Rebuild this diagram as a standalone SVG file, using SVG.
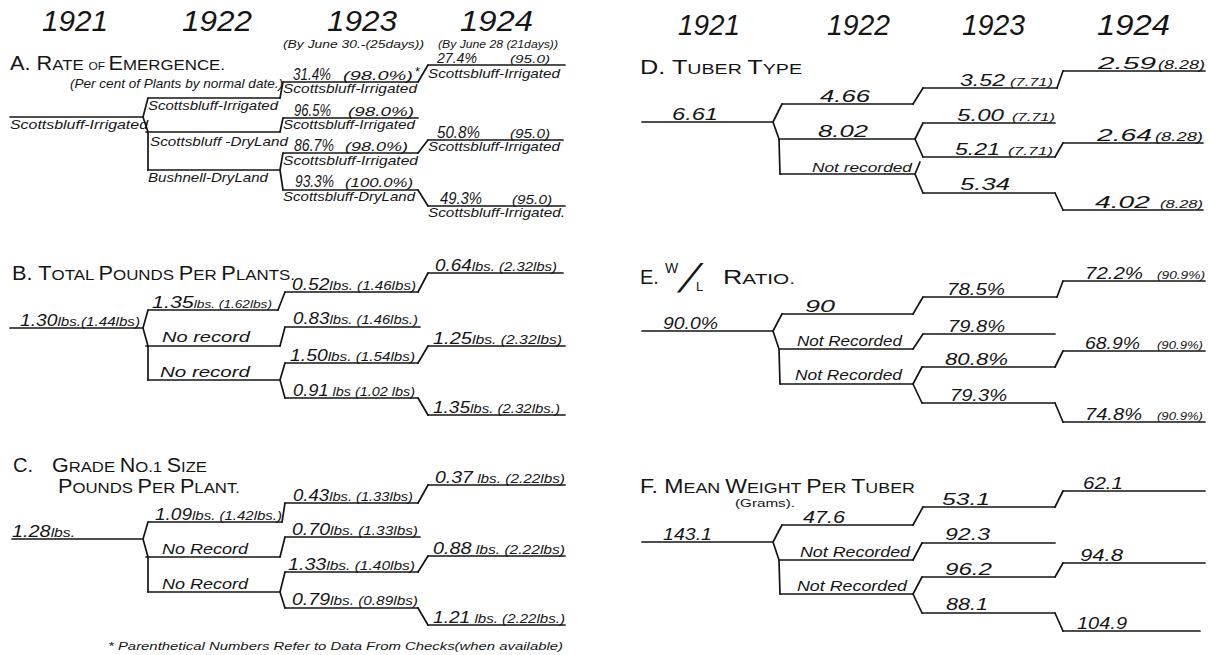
<svg xmlns="http://www.w3.org/2000/svg" width="1209" height="655" viewBox="0 0 1209 655">
<style>
.ln{fill:none;stroke:#151515;stroke-width:1.7;stroke-linecap:round;stroke-linejoin:round}
text{font-family:"Liberation Sans",Arial,sans-serif;fill:#151515}
.i{font-style:italic}
.yr{font-size:29px;font-style:italic}
.v{font-size:16.5px}
.vb{font-size:17px}
.p{font-size:10.5px}
.q{font-size:12px}
.s{font-size:13px}
.nr{font-size:14px}
.B{font-size:20px}
.c{font-size:15.5px}
.o{font-size:11px}
.hs{font-size:10.5px}
.fn{font-size:11px}
</style>
<rect width="1209" height="655" fill="#fff"/>

<g id="headers">
<text class="yr" x="42" y="31" textLength="66" lengthAdjust="spacingAndGlyphs">1921</text>
<text class="yr" x="182" y="31" textLength="70" lengthAdjust="spacingAndGlyphs">1922</text>
<text class="yr" x="327" y="31" textLength="70" lengthAdjust="spacingAndGlyphs">1923</text>
<text class="yr" x="460" y="31" textLength="73" lengthAdjust="spacingAndGlyphs">1924</text>
<text class="i hs" x="283" y="47.5" textLength="141" lengthAdjust="spacingAndGlyphs">(By June 30.-(25days))</text>
<text class="i hs" x="438" y="47.5" textLength="120" lengthAdjust="spacingAndGlyphs">(By June 28 (21days))</text>
<text class="yr" x="678" y="35" textLength="62" lengthAdjust="spacingAndGlyphs">1921</text>
<text class="yr" x="827" y="35" textLength="63" lengthAdjust="spacingAndGlyphs">1922</text>
<text class="yr" x="962" y="35" textLength="63" lengthAdjust="spacingAndGlyphs">1923</text>
<text class="yr" x="1097" y="35" textLength="73" lengthAdjust="spacingAndGlyphs">1924</text>
</g>

<g id="titles">
<text x="10" y="70" textLength="215" lengthAdjust="spacingAndGlyphs"><tspan class="B">A. R</tspan><tspan class="c">ATE </tspan><tspan class="o">OF </tspan><tspan class="B">E</tspan><tspan class="c">MERGENCE.</tspan></text>
<text class="i s" x="70" y="88" textLength="213" lengthAdjust="spacingAndGlyphs">(Per cent of Plants by normal date.)</text>
<text x="12" y="280" textLength="283" lengthAdjust="spacingAndGlyphs"><tspan class="B">B. T</tspan><tspan class="c">OTAL </tspan><tspan class="B">P</tspan><tspan class="c">OUNDS </tspan><tspan class="B">P</tspan><tspan class="c">ER </tspan><tspan class="B">P</tspan><tspan class="c">LANTS.</tspan></text>
<text class="B" x="13" y="472">C.</text>
<text x="52" y="472" textLength="155" lengthAdjust="spacingAndGlyphs"><tspan class="B">G</tspan><tspan class="c">RADE </tspan><tspan class="B">N</tspan><tspan class="c">O.1 </tspan><tspan class="B">S</tspan><tspan class="c">IZE</tspan></text>
<text x="58" y="493" textLength="182" lengthAdjust="spacingAndGlyphs"><tspan class="B">P</tspan><tspan class="c">OUNDS </tspan><tspan class="B">P</tspan><tspan class="c">ER </tspan><tspan class="B">P</tspan><tspan class="c">LANT.</tspan></text>
<text class="fn i" x="108" y="650" textLength="455" lengthAdjust="spacingAndGlyphs">* Parenthetical Numbers Refer to Data From Checks(when available)</text>
<text x="640" y="74" textLength="162" lengthAdjust="spacingAndGlyphs"><tspan class="B">D. T</tspan><tspan class="c">UBER </tspan><tspan class="B">T</tspan><tspan class="c">YPE</tspan></text>
<text class="B" x="640" y="284">E.</text>
<text x="665" y="273" font-size="14">W</text>
<text transform="translate(677 292) skewX(-28)" font-size="40">/</text>
<text x="696" y="291" font-size="13">L</text>
<text x="723" y="284" textLength="72" lengthAdjust="spacingAndGlyphs"><tspan class="B">R</tspan><tspan class="c">ATIO.</tspan></text>
<text x="640" y="493" textLength="275" lengthAdjust="spacingAndGlyphs"><tspan class="B">F. M</tspan><tspan class="c">EAN </tspan><tspan class="B">W</tspan><tspan class="c">EIGHT </tspan><tspan class="B">P</tspan><tspan class="c">ER </tspan><tspan class="B">T</tspan><tspan class="c">UBER</tspan></text>
<text class="o" x="735" y="507" textLength="60" lengthAdjust="spacingAndGlyphs">(Grams).</text>
</g>

<!-- Panel A -->
<g id="A-1921"><path class="ln" d="M10 117H143"/><text class="i s" x="10" y="129" textLength="138" lengthAdjust="spacingAndGlyphs">Scottsbluff-Irrigated</text></g>
<g id="A-1922-1"><path class="ln" d="M148 98H280"/><text class="i s" x="148" y="110" textLength="130" lengthAdjust="spacingAndGlyphs">Scottsbluff-Irrigated</text></g>
<g id="A-1922-2"><path class="ln" d="M146 132H280"/><text class="i s" x="150" y="146" textLength="138" lengthAdjust="spacingAndGlyphs">Scottsbluff -DryLand</text></g>
<g id="A-1922-3"><path class="ln" d="M148 170H280"/><text class="i s" x="148" y="182" textLength="120" lengthAdjust="spacingAndGlyphs">Bushnell-DryLand</text></g>
<g id="A-1923-1"><path class="ln" d="M283 82H418"/><text class="i v" x="293" y="80" textLength="38" lengthAdjust="spacingAndGlyphs">31.4%</text><text class="i q" x="343" y="80" textLength="70" lengthAdjust="spacingAndGlyphs">(98.0%)</text><text class="i s" x="283" y="93" textLength="134" lengthAdjust="spacingAndGlyphs">Scottsbluff-Irrigated</text></g>
<g id="A-1923-2"><path class="ln" d="M283 118H418"/><text class="i v" x="294" y="116" textLength="37" lengthAdjust="spacingAndGlyphs">96.5%</text><text class="i q" x="348" y="116" textLength="66" lengthAdjust="spacingAndGlyphs">(98.0%)</text><text class="i s" x="283" y="129" textLength="132" lengthAdjust="spacingAndGlyphs">Scottsbluff-Irrigated</text></g>
<g id="A-1923-3"><path class="ln" d="M283 153H418"/><text class="i v" x="294" y="151" textLength="40" lengthAdjust="spacingAndGlyphs">86.7%</text><text class="i q" x="345" y="151" textLength="63" lengthAdjust="spacingAndGlyphs">(98.0%)</text><text class="i s" x="283" y="165" textLength="135" lengthAdjust="spacingAndGlyphs">Scottsbluff-Irrigated</text></g>
<g id="A-1923-4"><path class="ln" d="M283 190H418"/><text class="i v" x="295" y="187" textLength="39" lengthAdjust="spacingAndGlyphs">93.3%</text><text class="i q" x="345" y="187" textLength="68" lengthAdjust="spacingAndGlyphs">(100.0%)</text><text class="i s" x="283" y="201" textLength="132" lengthAdjust="spacingAndGlyphs">Scottsbluff-DryLand</text></g>
<g id="A-1924-1"><path class="ln" d="M428 65H565"/><text class="i" x="437" y="63" font-size="14" textLength="40" lengthAdjust="spacingAndGlyphs">27.4%</text><text class="i" x="510" y="63" font-size="11.5" textLength="40" lengthAdjust="spacingAndGlyphs">(95.0)</text><text class="s" x="415" y="76">*</text><text class="i s" x="428" y="78" textLength="132" lengthAdjust="spacingAndGlyphs">Scottsbluff-Irrigated</text></g>
<g id="A-1924-2"><path class="ln" d="M428 140H563"/><text class="i v" x="437" y="138" textLength="43" lengthAdjust="spacingAndGlyphs">50.8%</text><text class="i q" x="510" y="138" textLength="40" lengthAdjust="spacingAndGlyphs">(95.0)</text><text class="i s" x="428" y="151" textLength="132" lengthAdjust="spacingAndGlyphs">Scottsbluff-Irrigated</text></g>
<g id="A-1924-3"><path class="ln" d="M428 206H565"/><text class="i v" x="440" y="204" textLength="42" lengthAdjust="spacingAndGlyphs">49.3%</text><text class="i q" x="512" y="204" textLength="40" lengthAdjust="spacingAndGlyphs">(95.0)</text><text class="i s" x="428" y="217" textLength="137" lengthAdjust="spacingAndGlyphs">Scottsbluff-Irrigated.</text></g>

<!-- Panel B -->
<g id="B-1921"><path class="ln" d="M10 328H143"/><text class="i" x="20" y="326" textLength="120" lengthAdjust="spacingAndGlyphs"><tspan class="v">1.30</tspan><tspan class="s">lbs.(1.44lbs)</tspan></text></g>
<g id="B-1922-1"><path class="ln" d="M148 310H278"/><text class="i" x="152" y="308" textLength="120" lengthAdjust="spacingAndGlyphs"><tspan class="v">1.35</tspan><tspan class="p">lbs. (1.62lbs)</tspan></text></g>
<g id="B-1922-2"><path class="ln" d="M146 346H280"/><text class="i nr" x="162" y="342" textLength="88" lengthAdjust="spacingAndGlyphs">No record</text></g>
<g id="B-1922-3"><path class="ln" d="M148 380H280"/><text class="i nr" x="160" y="377" textLength="90" lengthAdjust="spacingAndGlyphs">No record</text></g>
<g id="B-1923-1"><path class="ln" d="M285 292H418"/><text class="i" x="292" y="290" textLength="124" lengthAdjust="spacingAndGlyphs"><tspan class="v">0.52</tspan><tspan class="s">lbs. (1.46lbs)</tspan></text></g>
<g id="B-1923-2"><path class="ln" d="M285 327H420"/><text class="i" x="293" y="324" textLength="125" lengthAdjust="spacingAndGlyphs"><tspan class="v">0.83</tspan><tspan class="s">lbs. (1.46lbs.)</tspan></text></g>
<g id="B-1923-3"><path class="ln" d="M285 363H418"/><text class="i" x="290" y="361" textLength="125" lengthAdjust="spacingAndGlyphs"><tspan class="v">1.50</tspan><tspan class="s">lbs. (1.54lbs)</tspan></text></g>
<g id="B-1923-4"><path class="ln" d="M285 398H418"/><text class="i" x="293" y="396" textLength="122" lengthAdjust="spacingAndGlyphs"><tspan class="v">0.91</tspan><tspan class="s"> lbs (1.02 lbs)</tspan></text></g>
<g id="B-1924-1"><path class="ln" d="M428 273H563"/><text class="i" x="435" y="271" textLength="122" lengthAdjust="spacingAndGlyphs"><tspan class="v">0.64</tspan><tspan class="s">lbs. (2.32lbs)</tspan></text></g>
<g id="B-1924-2"><path class="ln" d="M428 346H565"/><text class="i" x="433" y="344" textLength="129" lengthAdjust="spacingAndGlyphs"><tspan class="v">1.25</tspan><tspan class="s">lbs. (2.32lbs)</tspan></text></g>
<g id="B-1924-3"><path class="ln" d="M428 415H565"/><text class="i" x="433" y="413" textLength="127" lengthAdjust="spacingAndGlyphs"><tspan class="v">1.35</tspan><tspan class="s">lbs. (2.32lbs.)</tspan></text></g>

<!-- Panel C -->
<g id="C-1921"><path class="ln" d="M12 539H143"/><text class="i" x="12" y="537" textLength="63" lengthAdjust="spacingAndGlyphs"><tspan class="v">1.28</tspan><tspan class="s">lbs.</tspan></text></g>
<g id="C-1922-1"><path class="ln" d="M148 522H282"/><text class="i" x="155" y="520" textLength="127" lengthAdjust="spacingAndGlyphs"><tspan class="v">1.09</tspan><tspan class="s">lbs. (1.42lbs.)</tspan></text></g>
<g id="C-1922-2"><path class="ln" d="M146 557H280"/><text class="i nr" x="162" y="554" textLength="86" lengthAdjust="spacingAndGlyphs">No Record</text></g>
<g id="C-1922-3"><path class="ln" d="M148 592H280"/><text class="i nr" x="162" y="589" textLength="86" lengthAdjust="spacingAndGlyphs">No Record</text></g>
<g id="C-1923-1"><path class="ln" d="M285 503H418"/><text class="i" x="293" y="501" textLength="120" lengthAdjust="spacingAndGlyphs"><tspan class="v">0.43</tspan><tspan class="s">lbs. (1.33lbs)</tspan></text></g>
<g id="C-1923-2"><path class="ln" d="M285 537H420"/><text class="i" x="292" y="535" textLength="126" lengthAdjust="spacingAndGlyphs"><tspan class="v">0.70</tspan><tspan class="s">lbs. (1.33lbs)</tspan></text></g>
<g id="C-1923-3"><path class="ln" d="M285 572H418"/><text class="i" x="288" y="570" textLength="127" lengthAdjust="spacingAndGlyphs"><tspan class="v">1.33</tspan><tspan class="s">lbs. (1.40lbs)</tspan></text></g>
<g id="C-1923-4"><path class="ln" d="M285 608H418"/><text class="i" x="292" y="605" textLength="126" lengthAdjust="spacingAndGlyphs"><tspan class="v">0.79</tspan><tspan class="s">lbs. (0.89lbs)</tspan></text></g>
<g id="C-1924-1"><path class="ln" d="M428 485H565"/><text class="i" x="435" y="483" textLength="130" lengthAdjust="spacingAndGlyphs"><tspan class="v">0.37</tspan><tspan class="s"> lbs. (2.22lbs)</tspan></text></g>
<g id="C-1924-2"><path class="ln" d="M428 556H565"/><text class="i" x="433" y="554" textLength="132" lengthAdjust="spacingAndGlyphs"><tspan class="v">0.88</tspan><tspan class="s"> lbs. (2.22lbs)</tspan></text></g>
<g id="C-1924-3"><path class="ln" d="M428 625H565"/><text class="i" x="433" y="623" textLength="132" lengthAdjust="spacingAndGlyphs"><tspan class="v">1.21</tspan><tspan class="s"> lbs.  (2.22lbs.)</tspan></text></g>

<!-- Panel D -->
<g id="D-1921"><path class="ln" d="M642 122H773"/><text class="i vb" x="672" y="120" textLength="46" lengthAdjust="spacingAndGlyphs">6.61</text></g>
<g id="D-1922-1"><path class="ln" d="M782 104H913"/><text class="i vb" x="820" y="102" textLength="50" lengthAdjust="spacingAndGlyphs">4.66</text></g>
<g id="D-1922-2"><path class="ln" d="M779 139H915"/><text class="i vb" x="818" y="137" textLength="50" lengthAdjust="spacingAndGlyphs">8.02</text></g>
<g id="D-1922-3"><path class="ln" d="M780 174H915"/><text class="i s" x="812" y="172" textLength="100" lengthAdjust="spacingAndGlyphs">Not recorded</text></g>
<g id="D-1923-1"><path class="ln" d="M923 88H1057"/><text class="i vb" x="960" y="86" textLength="45" lengthAdjust="spacingAndGlyphs">3.52</text><text class="i p" x="1010" y="86" textLength="43" lengthAdjust="spacingAndGlyphs">(7.71)</text></g>
<g id="D-1923-2"><path class="ln" d="M923 123H1055"/><text class="i vb" x="957" y="121" textLength="47" lengthAdjust="spacingAndGlyphs">5.00</text><text class="i p" x="1012" y="121" textLength="43" lengthAdjust="spacingAndGlyphs">(7.71)</text></g>
<g id="D-1923-3"><path class="ln" d="M923 157H1055"/><text class="i vb" x="955" y="155" textLength="45" lengthAdjust="spacingAndGlyphs">5.21</text><text class="i p" x="1008" y="155" textLength="45" lengthAdjust="spacingAndGlyphs">(7.71)</text></g>
<g id="D-1923-4"><path class="ln" d="M923 193H1055"/><text class="i vb" x="960" y="190" textLength="50" lengthAdjust="spacingAndGlyphs">5.34</text></g>
<g id="D-1924-1"><path class="ln" d="M1063 71H1205"/><text class="i vb" x="1098" y="69" textLength="58" lengthAdjust="spacingAndGlyphs">2.59</text><text class="i s" x="1158" y="69" textLength="47" lengthAdjust="spacingAndGlyphs">(8.28)</text></g>
<g id="D-1924-2"><path class="ln" d="M1063 143H1203"/><text class="i vb" x="1097" y="141" textLength="55" lengthAdjust="spacingAndGlyphs">2.64</text><text class="i s" x="1155" y="141" textLength="48" lengthAdjust="spacingAndGlyphs">(8.28)</text></g>
<g id="D-1924-3"><path class="ln" d="M1063 210H1203"/><text class="i vb" x="1095" y="208" textLength="55" lengthAdjust="spacingAndGlyphs">4.02</text><text class="i p" x="1160" y="208" textLength="43" lengthAdjust="spacingAndGlyphs">(8.28)</text></g>

<!-- Panel E -->
<g id="E-1921"><path class="ln" d="M642 331H773"/><text class="i vb" x="663" y="329" textLength="55" lengthAdjust="spacingAndGlyphs">90.0%</text></g>
<g id="E-1922-1"><path class="ln" d="M782 314H913"/><text class="i vb" x="805" y="312" textLength="30" lengthAdjust="spacingAndGlyphs">90</text></g>
<g id="E-1922-2"><path class="ln" d="M779 349H913"/><text class="i nr" x="797" y="346" textLength="105" lengthAdjust="spacingAndGlyphs">Not Recorded</text></g>
<g id="E-1922-3"><path class="ln" d="M780 384H913"/><text class="i nr" x="795" y="380" textLength="107" lengthAdjust="spacingAndGlyphs">Not Recorded</text></g>
<g id="E-1923-1"><path class="ln" d="M923 297H1057"/><text class="i vb" x="947" y="295" textLength="58" lengthAdjust="spacingAndGlyphs">78.5%</text></g>
<g id="E-1923-2"><path class="ln" d="M923 334H1055"/><text class="i vb" x="948" y="332" textLength="57" lengthAdjust="spacingAndGlyphs">79.8%</text></g>
<g id="E-1923-3"><path class="ln" d="M922 367H1055"/><text class="i vb" x="945" y="365" textLength="63" lengthAdjust="spacingAndGlyphs">80.8%</text></g>
<g id="E-1923-4"><path class="ln" d="M922 403H1055"/><text class="i vb" x="950" y="401" textLength="57" lengthAdjust="spacingAndGlyphs">79.3%</text></g>
<g id="E-1924-1"><path class="ln" d="M1063 281H1205"/><text class="i vb" x="1085" y="279" textLength="58" lengthAdjust="spacingAndGlyphs">72.2%</text><text class="i p" x="1157" y="279" textLength="48" lengthAdjust="spacingAndGlyphs">(90.9%)</text></g>
<g id="E-1924-2"><path class="ln" d="M1063 351H1205"/><text class="i vb" x="1085" y="349" textLength="55" lengthAdjust="spacingAndGlyphs">68.9%</text><text class="i p" x="1157" y="349" textLength="46" lengthAdjust="spacingAndGlyphs">(90.9%)</text></g>
<g id="E-1924-3"><path class="ln" d="M1063 422H1205"/><text class="i vb" x="1085" y="420" textLength="57" lengthAdjust="spacingAndGlyphs">74.8%</text><text class="i p" x="1157" y="420" textLength="46" lengthAdjust="spacingAndGlyphs">(90.9%)</text></g>

<!-- Panel F -->
<g id="F-1921"><path class="ln" d="M642 542H773"/><text class="i vb" x="663" y="540" textLength="49" lengthAdjust="spacingAndGlyphs">143.1</text></g>
<g id="F-1922-1"><path class="ln" d="M782 525H913"/><text class="i vb" x="803" y="523" textLength="42" lengthAdjust="spacingAndGlyphs">47.6</text></g>
<g id="F-1922-2"><path class="ln" d="M779 560H913"/><text class="i nr" x="800" y="557" textLength="110" lengthAdjust="spacingAndGlyphs">Not Recorded</text></g>
<g id="F-1922-3"><path class="ln" d="M780 594H913"/><text class="i nr" x="797" y="591" textLength="110" lengthAdjust="spacingAndGlyphs">Not Recorded</text></g>
<g id="F-1923-1"><path class="ln" d="M923 507H1055"/><text class="i vb" x="942" y="505" textLength="48" lengthAdjust="spacingAndGlyphs">53.1</text></g>
<g id="F-1923-2"><path class="ln" d="M922 543H1055"/><text class="i vb" x="945" y="540" textLength="45" lengthAdjust="spacingAndGlyphs">92.3</text></g>
<g id="F-1923-3"><path class="ln" d="M922 577H1055"/><text class="i vb" x="945" y="575" textLength="47" lengthAdjust="spacingAndGlyphs">96.2</text></g>
<g id="F-1923-4"><path class="ln" d="M922 613H1055"/><text class="i vb" x="946" y="610" textLength="42" lengthAdjust="spacingAndGlyphs">88.1</text></g>
<g id="F-1924-1"><path class="ln" d="M1063 491H1205"/><text class="i vb" x="1083" y="489" textLength="40" lengthAdjust="spacingAndGlyphs">62.1</text></g>
<g id="F-1924-2"><path class="ln" d="M1063 563H1205"/><text class="i vb" x="1080" y="561" textLength="43" lengthAdjust="spacingAndGlyphs">94.8</text></g>
<g id="F-1924-3"><path class="ln" d="M1063 631H1200"/><text class="i vb" x="1077" y="629" textLength="50" lengthAdjust="spacingAndGlyphs">104.9</text></g>

<g id="connectors" class="ln">
<path d="M143 117L148 98M143 117L148 132L148 170"/>
<path d="M280 98L283 82M280 132L283 118M280 170L283 153M280 170L283 190"/>
<path d="M418 82L428 65M418 153L428 140M418 190L428 206"/>
<path d="M143 328L148 310M143 328L148 346L148 380"/>
<path d="M278 310L285 292M280 346L285 327M280 380L285 363M280 380L285 398"/>
<path d="M418 292L428 273M418 363L428 346M418 398L428 415"/>
<path d="M143 539L148 522M143 539L148 557L148 592"/>
<path d="M282 522L285 503M280 557L285 537M280 592L285 572M280 592L285 608"/>
<path d="M418 503L428 485M418 572L428 556M418 608L428 625"/>
<path d="M773 122L782 104M773 122L779 139L780 174"/>
<path d="M913 104L923 88M915 139L923 123M915 139L923 157M915 174L920 162M915 174L923 193"/>
<path d="M1057 88L1063 71M1055 157L1063 143M1055 193L1063 210"/>
<path d="M773 331L782 314M773 331L779 349L780 384"/>
<path d="M913 314L923 297M913 349L923 334M913 384L922 367M913 384L922 403"/>
<path d="M1057 297L1063 281M1055 367L1063 351M1055 403L1063 422"/>
<path d="M773 542L782 525M773 542L779 560L780 594"/>
<path d="M913 525L923 507M913 560L922 543M913 594L922 577M913 594L922 613"/>
<path d="M1055 507L1063 491M1055 577L1063 563M1055 613L1063 631"/>
</g>
</svg>
